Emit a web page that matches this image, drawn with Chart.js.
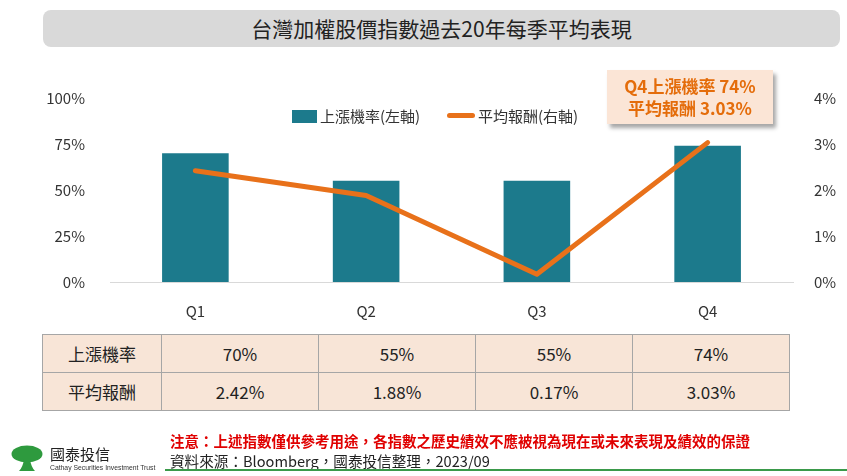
<!DOCTYPE html>
<html>
<head>
<meta charset="utf-8">
<script src="https://cdn.jsdelivr.net/npm/chart.js@4.4.0/dist/chart.umd.min.js"></script>
<style>
  body { margin: 0; background: #fff; font-family: "Noto Sans CJK TC", sans-serif; }
  #page { position: relative; width: 847px; height: 476px; overflow: hidden; }
  #chart { position: absolute; left: 0; top: 0; }
  .title { position: absolute; left: 43px; top: 10px; width: 797px; height: 37px; background: #d9d9d9;
    border-radius: 8px; text-align: center; line-height: 37px; font-size: 21px; color: #222; }
  .legend { position: absolute; top: 105px; font-size: 15px; color: #333; line-height: 22px; }
  .legend .box { display: inline-block; width: 25px; height: 13px; background: #1c7a8c; vertical-align: -1px; margin-right: 3px; }
  .legend .ln { display: inline-block; width: 28px; height: 5px; border-radius: 3px; background: #e8711a; vertical-align: 4px; margin-right: 3px; }
  .note { position: absolute; left: 607px; top: 70px; width: 166px; height: 54px; background: #fbe5d6;
    box-shadow: 3px 4px 4px rgba(0,0,0,0.35); color: #e46c0a; font-weight: bold; font-size: 17px;
    text-align: center; line-height: 22px; padding-top: 5px; box-sizing: border-box; }
  table { position: absolute; left: 42px; top: 334px; border-collapse: collapse; background: #f8e5d7; }
  td { border: 1px solid #a6a6a6; height: 37px; text-align: center; font-size: 17px; color: #222; padding: 0; }
  td.head { width: 118px; }
  td.val { width: 156px; }
  .logo { position: absolute; left: 11px; top: 445px; }
  .brand { position: absolute; left: 50px; top: 444px; font-size: 15px; line-height: 20px; color: #222; }
  .brand-en { position: absolute; left: 50px; top: 464px; font-size: 6.8px; line-height: 8px; color: #333; font-family: "Liberation Sans", sans-serif; }
  .warn { position: absolute; left: 170px; top: 430px; font-size: 14.5px; font-weight: bold; color: #e00000; }
  .src { position: absolute; left: 170px; top: 450px; font-size: 14.6px; color: #222; }
  .rule { position: absolute; left: 165px; top: 469px; width: 682px; height: 2px; background: #3a9a4a; }
</style>
</head>
<body>
<div id="page">
  <div class="title">台灣加權股價指數過去20年每季平均表現</div>
  <canvas id="chart" width="847" height="476"></canvas>
  <div class="legend" style="left:292px"><span class="box"></span>上漲機率(左軸)</div>
  <div class="legend" style="left:447px"><span class="ln"></span>平均報酬(右軸)</div>
  <div class="note">Q4上漲機率 74%<br>平均報酬 3.03%</div>
  <table id="tbl"></table>
  <svg class="logo" width="32" height="27" viewBox="0 0 32 27">
    <ellipse cx="16" cy="9" rx="15.5" ry="8.5" fill="#2e9a3e"/>
    <path d="M13 14 L19 14 Q20 22 24 26 L8 26 Q12 22 13 14 Z" fill="#2e9a3e"/>
  </svg>
  <div class="brand">國泰投信</div>
  <div class="brand-en">Cathay Securities Investment Trust</div>
  <div class="warn">注意：上述指數僅供參考用途，各指數之歷史績效不應被視為現在或未來表現及績效的保證</div>
  <div class="src">資料來源：Bloomberg，國泰投信整理，2023/09</div>
  <div class="rule"></div>
</div>
<script>
  // data
  const quarters = ["Q1", "Q2", "Q3", "Q4"];
  const riseProb = [70, 55, 55, 74];          // 上漲機率 (%)
  const avgReturn = [2.42, 1.88, 0.17, 3.03]; // 平均報酬 (%)
  const rowLabels = ["上漲機率", "平均報酬"];

  // table under the chart
  var tbl = document.getElementById("tbl");
  var rows = [riseProb.map(function (v) { return v + "%"; }),
              avgReturn.map(function (v) { return v.toFixed(2) + "%"; })];
  rows.forEach(function (r, i) {
    var tr = document.createElement("tr");
    var th = document.createElement("td");
    th.className = "head";
    th.textContent = rowLabels[i];
    tr.appendChild(th);
    r.forEach(function (txt) {
      var td = document.createElement("td");
      td.className = "val";
      td.textContent = txt;
      tr.appendChild(td);
    });
    tbl.appendChild(tr);
  });

  var font = { family: '"Noto Sans CJK TC", sans-serif', size: 15 };

  new Chart(document.getElementById("chart"), {
    data: {
      labels: quarters,
      datasets: [
        {
          type: "line",
          label: "平均報酬(右軸)",
          data: avgReturn,
          yAxisID: "yR",
          borderColor: "#e8711a",
          borderWidth: 5,
          borderCapStyle: "round",
          borderJoinStyle: "round",
          pointRadius: 0,
          tension: 0,
          order: 0,
        },
        {
          type: "bar",
          label: "上漲機率(左軸)",
          data: riseProb,
          yAxisID: "yL",
          backgroundColor: "#1c7a8c",
          categoryPercentage: 1,
          barPercentage: 0.39,
          order: 1,
        },
      ],
    },
    options: {
      responsive: false,
      animation: false,
      layout: { padding: { left: 0, right: 0, top: 98, bottom: 154 } },
      plugins: { legend: { display: false }, tooltip: { enabled: false } },
      scales: {
        x: {
          grid: { display: false },
          border: { color: "#d9d9d9", width: 1 },
          ticks: { color: "#333", font: font, padding: 12 },
          afterFit: function (s) { s.height = 40; },
        },
        yL: {
          position: "left",
          min: 0,
          max: 100,
          grid: { display: false },
          border: { display: false },
          ticks: { stepSize: 25, color: "#333", font: font, padding: 17,
            callback: function (v) { return v + "%"; } },
          afterFit: function (s) { s.width = 110; },
        },
        yR: {
          position: "right",
          min: 0,
          max: 4,
          grid: { display: false },
          border: { display: false },
          ticks: { stepSize: 1, color: "#333", font: font, padding: 13,
            callback: function (v) { return v + "%"; } },
          afterFit: function (s) { s.width = 54; },
        },
      },
    },
  });
</script>
</body>
</html>
